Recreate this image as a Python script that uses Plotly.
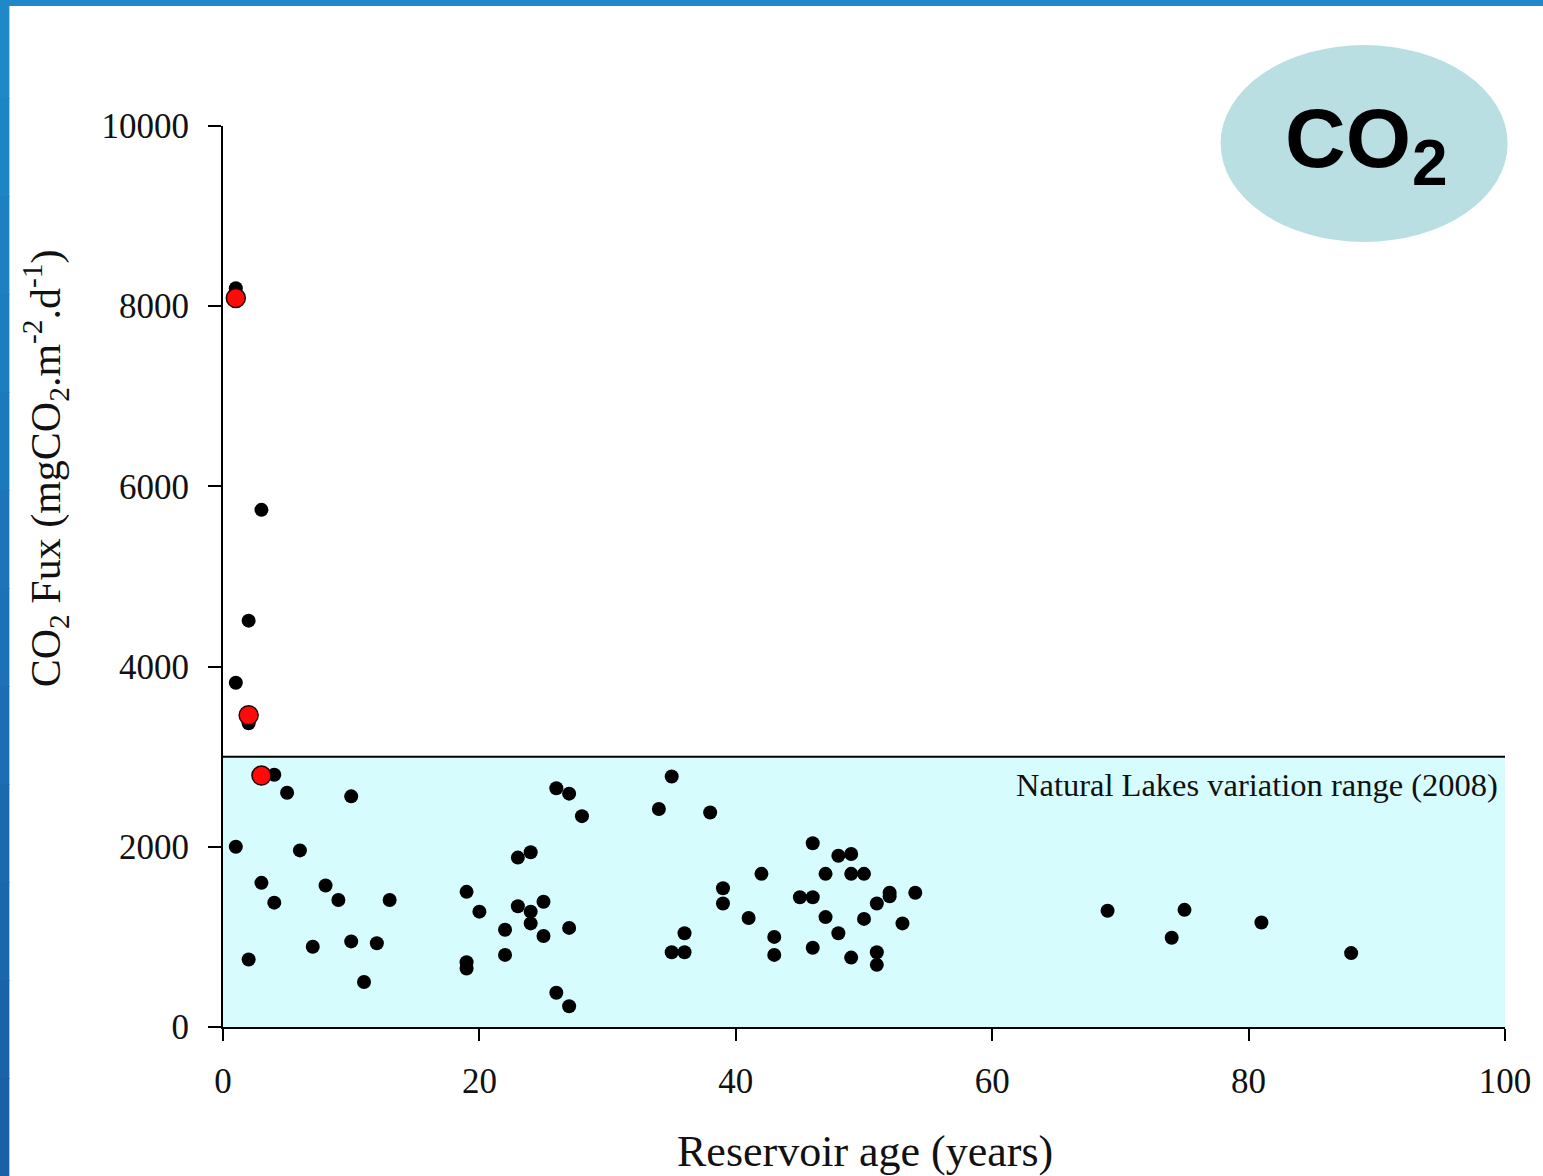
import plotly.graph_objects as go

# ---- data ----
age_black = [1, 1, 1, 2, 2, 2, 3, 3, 4, 4, 5, 6, 7, 8, 9, 10, 10, 11, 12, 13,
             19, 19, 19, 20, 22, 22, 23, 23, 24, 24, 24, 25, 25, 26, 26, 27, 27, 27, 28,
             34, 35, 35, 36, 36, 38, 39, 39, 41, 42, 43, 43, 45, 46, 46, 46, 47, 47,
             48, 48, 49, 49, 49, 50, 50, 51, 51, 51, 52, 52, 53, 54,
             69, 74, 75, 81, 88]
flux_black = [8200, 3820, 2000, 4510, 3370, 750, 5740, 1600, 2800, 1380, 2600, 1960, 890, 1570, 1410, 2560, 950, 500, 930, 1410,
              1500, 720, 650, 1280, 1080, 800, 1880, 1340, 1940, 1280, 1150, 1390, 1010, 2650, 380, 2590, 1100, 230, 2340,
              2420, 2780, 830, 1040, 830, 2380, 1540, 1370, 1210, 1700, 1000, 800, 1440, 2040, 1440, 880, 1700, 1220,
              1900, 1040, 1920, 1700, 770, 1700, 1200, 1370, 830, 690, 1490, 1450, 1150, 1490,
              1290, 990, 1300, 1160, 820]
age_red = [1, 2, 3]
flux_red = [8090, 3460, 2790]

x_ticks = [0, 20, 40, 60, 80, 100]
y_ticks = [0, 2000, 4000, 6000, 8000, 10000]
y_tick_labels = ["0", "2000", "4000", "6000", "8000", "10000"]
natural_lakes_max = 3000

W, H = 1543, 1176
F = 1.0031  # horizontal compensation
L, R, T, B = round(222 * F), round(1508 * F), 126, 1027


def px(xp):
    return (xp * F - L) / (R - L)


def py(yp):
    return (B - yp) / (B - T)


serif = "Liberation Serif, Times New Roman, serif"
sans = "Liberation Sans, Arial, sans-serif"

fig = go.Figure()
fig.add_trace(go.Scatter(x=age_black, y=flux_black, mode="markers",
                         marker=dict(color="black", size=14, line=dict(width=0)),
                         showlegend=False, cliponaxis=False))
fig.add_trace(go.Scatter(x=age_red, y=flux_red, mode="markers",
                         marker=dict(color="#ff0a0a", size=19, line=dict(width=1.5, color="#2a0000")),
                         showlegend=False, cliponaxis=False))

shapes = []
# natural lakes band
shapes.append(dict(type="rect", xref="x", yref="y", x0=0, x1=100, y0=0, y1=natural_lakes_max,
                   fillcolor="#d6fcfe", line=dict(width=0), layer="below"))
shapes.append(dict(type="line", xref="x", yref="y", x0=0, x1=100, y0=natural_lakes_max, y1=natural_lakes_max,
                   line=dict(color="black", width=2)))
# ellipse badge
shapes.append(dict(type="circle", xref="paper", yref="paper",
                   x0=px(1223), x1=px(1511), y0=py(242), y1=py(45),
                   fillcolor="#b9dfe3", line=dict(width=0)))
# blue frame (top and left)
shapes.append(dict(type="rect", xref="paper", yref="paper", x0=px(-5), x1=px(W + 10), y0=py(6), y1=py(-5),
                   fillcolor="#1e88c8", line=dict(width=0)))
n = 12
for i in range(n):
    y0p = i * H / n
    y1p = (i + 1) * H / n + 1
    t = i / (n - 1)
    r = int(0x1e + (0x1a - 0x1e) * t)
    g = int(0x88 + (0x60 - 0x88) * t)
    b = int(0xc8 + (0xa8 - 0xc8) * t)
    shapes.append(dict(type="rect", xref="paper", yref="paper", x0=px(-5), x1=px(8),
                       y0=py(y1p), y1=py(y0p),
                       fillcolor="rgb(%d,%d,%d)" % (r, g, b), line=dict(width=0)))

annotations = [
    dict(x=px(1503), y=py(785), xref="paper", yref="paper", text="Natural Lakes variation range (2008)",
         showarrow=False, xanchor="right", yanchor="middle",
         font=dict(family=serif, size=32.5, color="#111")),
    dict(x=px(1351), y=py(138), xref="paper", yref="paper", text="<b>CO</b>",
         showarrow=False, xanchor="center", yanchor="middle",
         font=dict(family=sans, size=84, color="black")),
    dict(x=px(1433), y=py(163), xref="paper", yref="paper", text="<b>2</b>",
         showarrow=False, xanchor="center", yanchor="middle",
         font=dict(family=sans, size=64, color="black")),
    dict(x=px(866), y=py(1151), xref="paper", yref="paper", text="Reservoir age (years)",
         showarrow=False, xanchor="center", yanchor="middle",
         font=dict(family=serif, size=44, color="#111")),
    dict(x=px(44), y=py(468), xref="paper", yref="paper",
         text="CO<sub>2</sub> Fux (mgCO<sub>2</sub>.m<sup>-2</sup>.d<sup>-1</sup>)",
         textangle=-90, showarrow=False, xanchor="center", yanchor="middle",
         font=dict(family=serif, size=42, color="#111")),
]

fig.update_layout(
    width=W, height=H,
    margin=dict(l=L, r=W - R, t=T, b=H - B),
    plot_bgcolor="white", paper_bgcolor="white",
    shapes=shapes, annotations=annotations,
    xaxis=dict(range=[0, 100], tickvals=x_ticks, showgrid=False, zeroline=False,
               showline=True, linecolor="black", linewidth=2,
               ticks="outside", ticklen=12, tickwidth=2, tickcolor="black",
               ticklabelstandoff=10,
               tickfont=dict(family=serif, size=35, color="#111")),
    yaxis=dict(range=[0, 10000], tickvals=y_ticks, ticktext=y_tick_labels,
               showgrid=False, zeroline=False,
               showline=True, linecolor="black", linewidth=2,
               ticks="outside", ticklen=13, tickwidth=2, tickcolor="black",
               ticklabelstandoff=12,
               tickfont=dict(family=serif, size=35, color="#111")),
)

fig.write_html("out.html")
